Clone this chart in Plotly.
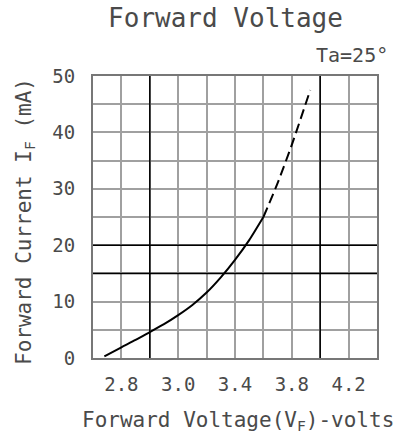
import plotly.graph_objects as go

# ---- data ----
solid_v = [2.48, 2.6, 2.7, 2.8, 2.9, 3.0, 3.1, 3.2, 3.3, 3.4, 3.5, 3.6]
solid_i = [0.3, 1.9, 3.2, 4.6, 6.0, 7.6, 9.4, 11.6, 14.3, 17.4, 20.9, 25.0]
dash_v = [3.6, 3.7, 3.8, 3.93]
dash_i = [25.0, 31.0, 37.8, 47.5]

x_grid = [2.4, 2.6, 2.8, 3.0, 3.2, 3.4, 3.6, 3.8, 4.0, 4.2, 4.4]
x_labels = ["", "2.8", "", "3.0", "", "3.4", "", "3.8", "", "4.2", ""]
y_grid = [0, 5, 10, 15, 20, 25, 30, 35, 40, 45, 50]
y_labels = ["0", "", "10", "", "20", "", "30", "", "40", "", "50"]
bold_x = [2.8, 4.0]
bold_y = [15, 20]

FONT = "DejaVu Sans Mono"
TXT = "#4a4a4a"

fig = go.Figure()
fig.add_trace(go.Scatter(x=solid_v, y=solid_i, mode="lines",
                         line=dict(color="black", width=2, shape="spline", smoothing=0.6),
                         showlegend=False, hoverinfo="skip"))
fig.add_trace(go.Scatter(x=dash_v, y=dash_i, mode="lines",
                         line=dict(color="black", width=2, dash="10px,5px", shape="spline",
                                   smoothing=0.6),
                         showlegend=False, hoverinfo="skip"))

for v in bold_x:
    fig.add_shape(type="line", xref="x", yref="paper", x0=v, x1=v, y0=0, y1=1,
                  line=dict(color="black", width=1.5), layer="above")
for v in bold_y:
    fig.add_shape(type="line", xref="paper", yref="y", x0=0, x1=1, y0=v, y1=v,
                  line=dict(color="black", width=1.5), layer="above")

fig.update_layout(
    width=402, height=438,
    margin=dict(l=93, r=25, t=76, b=80),
    paper_bgcolor="white", plot_bgcolor="white",
    font=dict(family=FONT, color=TXT),
    title=dict(text="Forward Voltage", x=225.5 / 402, xanchor="center",
               y=1 - 18 / 438, yanchor="middle",
               font=dict(family=FONT, size=26, color=TXT)),
    xaxis=dict(range=[2.4, 4.4], tickmode="array", tickvals=x_grid, ticktext=x_labels,
               showgrid=True, gridcolor="#a0a0a0", gridwidth=2,
               showline=True, linecolor="#777", linewidth=2, mirror=True,
               zeroline=False, ticks="", ticklabelstandoff=8,
               tickfont=dict(family=FONT, size=19, color=TXT)),
    yaxis=dict(range=[0, 50], tickmode="array", tickvals=y_grid, ticktext=y_labels,
               showgrid=True, gridcolor="#a0a0a0", gridwidth=2,
               showline=True, linecolor="#777", linewidth=2, mirror=True,
               zeroline=False, ticks="", ticklabelstandoff=12,
               tickfont=dict(family=FONT, size=19, color=TXT)),
    annotations=[
        dict(text="Ta=25°", xref="paper", yref="paper", x=(390 - 93) / 284,
             y=1 + 21 / 282, xanchor="right", yanchor="middle", showarrow=False,
             font=dict(family=FONT, size=20, color=TXT)),
        dict(text="Forward Voltage(V<sub>F</sub>)-volts", xref="paper", yref="paper",
             x=(237.5 - 93) / 284, y=(358 - 421) / 282, xanchor="center",
             yanchor="middle", showarrow=False,
             font=dict(family=FONT, size=21, color=TXT)),
        dict(text="Forward Current I<sub>F</sub> (mA)", xref="paper", yref="paper",
             x=(25 - 93) / 284, y=(358 - 222) / 282, xanchor="center",
             yanchor="middle", showarrow=False, textangle=-90,
             font=dict(family=FONT, size=21, color=TXT)),
    ],
)

fig.write_html("out.html", config={"displayModeBar": False},
               post_script="document.body.style.margin='0px';document.body.style.overflow='hidden';")
